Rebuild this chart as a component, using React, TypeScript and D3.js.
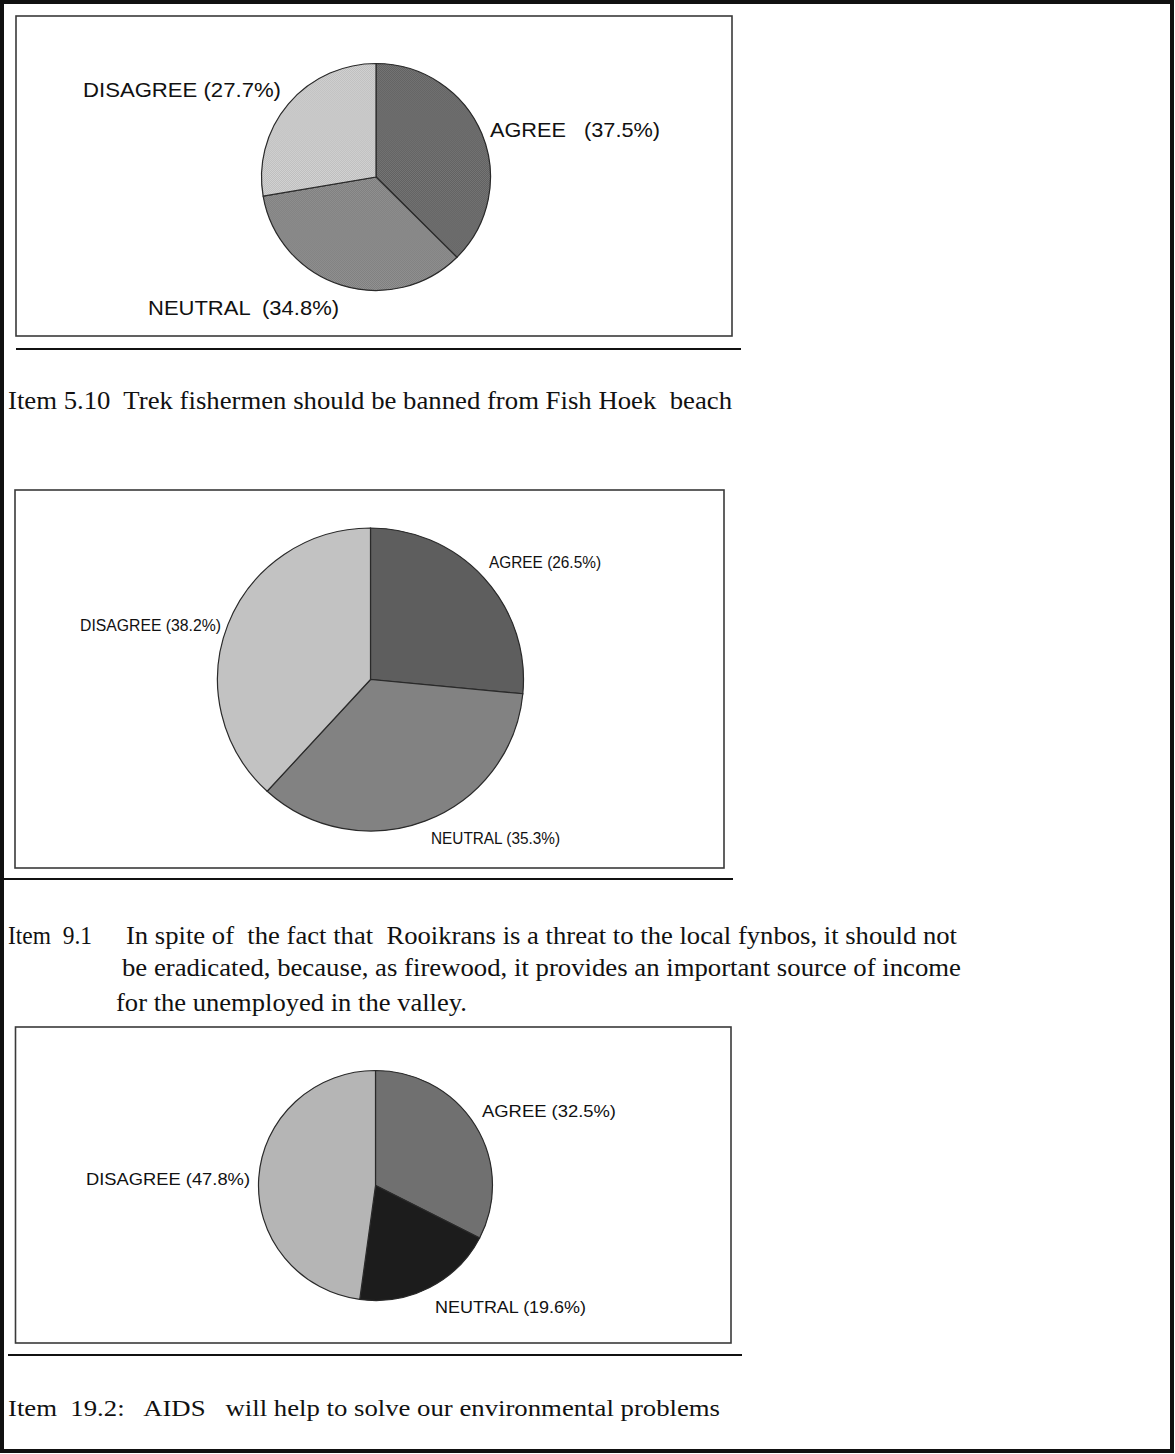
import React from "react";
import * as d3 from "d3";

// ---- data ----
const categories = ["AGREE", "NEUTRAL", "DISAGREE"];
const chartAValues = [37.5, 34.8, 27.7];
const chartBValues = [26.5, 35.3, 38.2];
const chartCValues = [32.5, 19.6, 47.8];
const chartALabelGaps = ["   ", "  ", " "];
const chartBLabelGaps = [" ", " ", " "];
const chartCLabelGaps = [" ", " ", " "];

const item510 = "Item 5.10  Trek fishermen should be banned from Fish Hoek  beach";
const item91Lines = [
  "In spite of  the fact that  Rooikrans is a threat to the local fynbos, it should not",
  "be eradicated, because, as firewood, it provides an important source of income",
  "for the unemployed in the valley.",
];
const item91Head = "Item  9.1";
const item192 = "Item  19.2:   AIDS   will help to solve our environmental problems";

// ---- styles / layout ----
const fillsA = ["#6b6b6b", "#888888", "#c8c8c8"];
const fillsB = ["#5e5e5e", "#828282", "#c2c2c2"];
const fillsC = ["#707070", "#1c1c1c", "#b5b5b5"];

type LabelPos = { x: number; y: number; w: number };
type ChartLayout = {
  id: string;
  box: { x: number; y: number; w: number; h: number };
  cx: number;
  cy: number;
  rx: number;
  ry: number;
  fontSize: number;
  labels: LabelPos[]; // in category order
};

const layoutA: ChartLayout = {
  id: "a",
  box: { x: 16, y: 16, w: 716, h: 320 },
  cx: 376, cy: 177, rx: 114.5, ry: 113.5, fontSize: 21,
  labels: [
    { x: 490, y: 137, w: 170 },
    { x: 148, y: 315, w: 191 },
    { x: 83, y: 97, w: 198 },
  ],
};
const layoutB: ChartLayout = {
  id: "b",
  box: { x: 15, y: 490, w: 709, h: 378 },
  cx: 370.5, cy: 679.5, rx: 153, ry: 151.5, fontSize: 16,
  labels: [
    { x: 489, y: 568, w: 112 },
    { x: 431, y: 844, w: 129 },
    { x: 80, y: 631, w: 141 },
  ],
};
const layoutC: ChartLayout = {
  id: "c",
  box: { x: 15.5, y: 1027, w: 715.5, h: 316 },
  cx: 375.5, cy: 1185.5, rx: 117, ry: 115, fontSize: 17,
  labels: [
    { x: 482, y: 1117, w: 134 },
    { x: 435, y: 1313, w: 151 },
    { x: 86, y: 1185, w: 164 },
  ],
};

const SANS = "'Liberation Sans', Arial, Helvetica, sans-serif";
const SERIF = "'Liberation Serif', 'Times New Roman', Times, serif";

function shade(c: string, k: number) {
  const col = d3.rgb(c);
  return d3.rgb(
    Math.max(0, Math.min(255, col.r + k)),
    Math.max(0, Math.min(255, col.g + k)),
    Math.max(0, Math.min(255, col.b + k))
  ).formatHex();
}

function PieChart({ values, fills, gaps, layout }: { values: number[]; fills: string[]; gaps: string[]; layout: ChartLayout }) {
  const data = categories.map((c, i) => ({ cat: c, v: values[i], fill: fills[i], gap: gaps[i] }));
  const pie = d3.pie<any>().sort(null).value((d: any) => d.v).startAngle(0).endAngle(2 * Math.PI);
  const arcs = pie(data);
  const arc = d3.arc<any>().innerRadius(0).outerRadius(layout.rx);
  const { box } = layout;
  return (
    <g>
      <defs>
        {data.map((d, i) => (
          <pattern key={i} id={`pat-${layout.id}-${i}`} patternUnits="userSpaceOnUse" x={0} y={0} width={2} height={2}>
            <rect x={0} y={0} width={2} height={2} fill={shade(d.fill, 10)} />
            <rect x={0} y={0} width={1} height={1} fill={shade(d.fill, -10)} />
            <rect x={1} y={1} width={1} height={1} fill={shade(d.fill, -10)} />
          </pattern>
        ))}
      </defs>
      <rect x={box.x} y={box.y} width={box.w} height={box.h} fill="#fff" stroke="#3a3a3a" strokeWidth={1.6} />
      <g transform={`translate(${layout.cx},${layout.cy})`}>
        {arcs.map((a: any, i: number) => (
          <path
            key={i}
            d={arc(a) as string}
            transform={`scale(1,${layout.ry / layout.rx})`}
            fill={a.data.fill}
            stroke="none"
          />
        ))}
      </g>
      <g transform={`translate(${layout.cx},${layout.cy}) scale(1,${layout.ry / layout.rx})`}>
        {arcs.map((a: any, i: number) => (
          <path
            key={i}
            d={arc(a) as string}
            fill={`url(#pat-${layout.id}-${i})`}
            stroke="#2a2a2a"
            strokeWidth={1.2}
            vectorEffect="non-scaling-stroke"
          />
        ))}
      </g>
      {data.map((d, i) => (
        <text
          key={d.cat}
          x={layout.labels[i].x}
          y={layout.labels[i].y}
          fontFamily={SANS}
          fontSize={layout.fontSize}
          fill="#111"
          textLength={layout.labels[i].w}
          lengthAdjust="spacingAndGlyphs"
          style={{ whiteSpace: "pre" }}
        >
          {`${d.cat}${d.gap}(${d.v}%)`}
        </text>
      ))}
    </g>
  );
}

export default function App() {
  return (
    <svg width={1175} height={1454} viewBox="0 0 1175 1454" style={{ position: "absolute", left: 0, top: 0, background: "#fff" }}>
      <rect x={0} y={0} width={1175} height={1454} fill="#fff" />
      {/* page frame */}
      <rect x={2} y={2} width={1170} height={1449} fill="none" stroke="#111" strokeWidth={4} />

      <PieChart values={chartAValues} fills={fillsA} gaps={chartALabelGaps} layout={layoutA} />
      <line x1={16} x2={741} y1={349} y2={349} stroke="#111" strokeWidth={2.2} />
      <text x={8} y={409} fontFamily={SERIF} fontSize={25} fill="#111" textLength={724} lengthAdjust="spacingAndGlyphs" style={{ whiteSpace: "pre" }}>
        {item510}
      </text>

      <PieChart values={chartBValues} fills={fillsB} gaps={chartBLabelGaps} layout={layoutB} />
      <line x1={4} x2={733} y1={879} y2={879} stroke="#111" strokeWidth={2.2} />
      <text x={8} y={944} fontFamily={SERIF} fontSize={25} fill="#111" textLength={84} lengthAdjust="spacingAndGlyphs" style={{ whiteSpace: "pre" }}>
        {item91Head}
      </text>
      <text x={126} y={944} fontFamily={SERIF} fontSize={25} fill="#111" textLength={831} lengthAdjust="spacingAndGlyphs" style={{ whiteSpace: "pre" }}>
        {item91Lines[0]}
      </text>
      <text x={122} y={976} fontFamily={SERIF} fontSize={25} fill="#111" textLength={839} lengthAdjust="spacingAndGlyphs" style={{ whiteSpace: "pre" }}>
        {item91Lines[1]}
      </text>
      <text x={116} y={1011} fontFamily={SERIF} fontSize={25} fill="#111" textLength={351} lengthAdjust="spacingAndGlyphs" style={{ whiteSpace: "pre" }}>
        {item91Lines[2]}
      </text>

      <PieChart values={chartCValues} fills={fillsC} gaps={chartCLabelGaps} layout={layoutC} />
      <line x1={8} x2={742} y1={1355} y2={1355} stroke="#111" strokeWidth={2.2} />
      <text x={8} y={1416} fontFamily={SERIF} fontSize={24} fill="#111" textLength={712} lengthAdjust="spacingAndGlyphs" style={{ whiteSpace: "pre" }}>
        {item192}
      </text>
    </svg>
  );
}
